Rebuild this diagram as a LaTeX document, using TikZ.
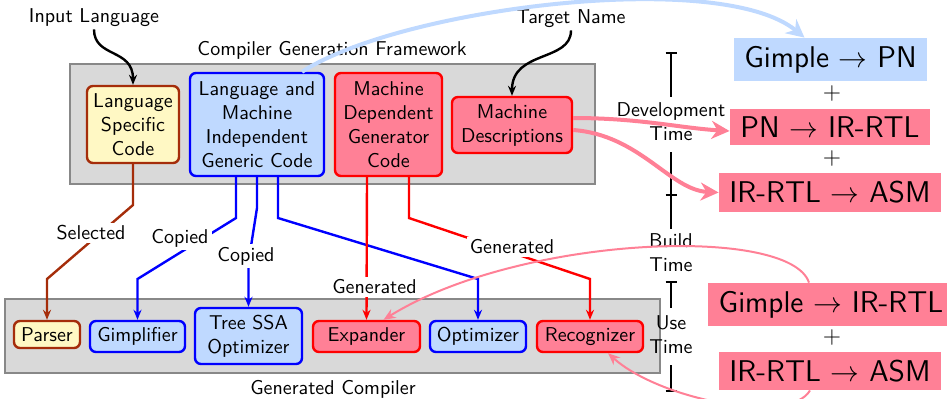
\documentclass[tikz,border=0pt]{standalone}
\usetikzlibrary{arrows.meta,calc}
\definecolor{pinkf}{RGB}{255,128,150}
\definecolor{bluef}{RGB}{191,217,255}
\definecolor{yellf}{RGB}{255,248,196}
\definecolor{brownb}{RGB}{165,45,10}
\definecolor{grayf}{RGB}{217,217,217}
\definecolor{grayb}{RGB}{136,136,136}
\begin{document}
\begin{tikzpicture}[x=0.5pt,y=-0.5pt,font=\sffamily,
  frame/.style={draw=grayb,fill=grayf,line width=1.2pt},
  box/.style={rounded corners=3pt,line width=1.2pt,align=center,inner sep=1pt},
  ybox/.style={box,draw=brownb,fill=yellf},
  bbox/.style={box,draw=blue,fill=bluef},
  rbox/.style={box,draw=red,fill=pinkf},
  big/.style={font=\sffamily\fontsize{15}{18}\selectfont,inner xsep=5.25pt,inner ysep=4pt},
  bigb/.style={big,fill=bluef},
  bigr/.style={big,fill=pinkf},
  plus/.style={font=\sffamily\fontsize{13.2}{15.8}\selectfont},
  lbl/.style={fill=white,inner sep=1.5pt},
  conn/.style={line width=1.2pt,-{Stealth[length=5pt,width=4pt]}},
  tl/.style={line width=0.6pt}
]
\useasboundingbox (0,0) rectangle (947,398);

% frames
\draw[frame] (70,64) rectangle (595,184);
\draw[frame] (5,299) rectangle (660,373);
\node (cgf) at (332,50) {Compiler Generation Framework};
\node (gc) at (333,389) {Generated Compiler};

% framework boxes
\node[ybox,minimum width=46pt,minimum height=38.5pt] (lsc) at (133,124.5) {Language\\Specific\\Code};
\node[bbox,minimum width=67pt,minimum height=51.5pt] (gen) at (257,124.5) {Language and\\Machine\\Independent\\Generic Code};
\node[rbox,minimum width=53.5pt,minimum height=51.5pt] (mdg) at (388.5,124.5) {Machine\\Dependent\\Generator\\Code};
\node[rbox,minimum width=60pt,minimum height=28pt] (md) at (512,125) {Machine\\Descriptions};

% generated compiler boxes
\node[ybox,minimum width=33pt,minimum height=13.5pt] (parser) at (47,334.5) {Parser};
\node[bbox,minimum width=47.5pt,minimum height=15.5pt] (gimpl) at (137.5,336.5) {Gimplifier};
\node[bbox,minimum width=53.5pt,minimum height=28pt] (tree) at (248.5,336) {Tree SSA\\Optimizer};
\node[rbox,minimum width=53.5pt,minimum height=15.5pt] (exp) at (366.5,336.5) {Expander};
\node[bbox,minimum width=48pt,minimum height=15.5pt] (opt) at (478,336.5) {Optimizer};
\node[rbox,minimum width=53pt,minimum height=15.5pt] (rec) at (590,336.5) {Recognizer};

% input labels
\node[inner sep=1pt] (inl) at (94,18) {Input Language};
\node[inner sep=1pt] (tgt) at (571,19) {Target Name};
\draw[line width=1.2pt,-{Stealth[length=5pt,width=4pt]}] (inl.south) .. controls (94,58) and (133,48) .. (lsc.north);
\draw[line width=1.2pt,-{Stealth[length=5pt,width=4pt]}] (tgt.south) .. controls (571,62) and (512,50) .. (md.north);

% connectors
\draw[conn,brownb] (lsc.south) -- (133,205) -- (47,279) -- (parser.north);
\draw[conn,blue] ($(gen.south)+(-21,0)$) -- (236,218) -- (137.5,279) -- (gimpl.north);
\draw[conn,blue] (gen.south) -- (257,208) -- (248.5,262) -- (tree.north);
\draw[conn,blue] ($(gen.south)+(21,0)$) -- (278,218) -- (478,279) -- (opt.north);
\draw[conn,red] ($(mdg.south)+(-21.5,0)$) -- (exp.north);
\draw[conn,red] ($(mdg.south)+(20.5,0)$) -- (409,218) -- (590,279) -- (rec.north);
\node[lbl] (sel) at (91,233) {Selected};
\node[lbl] (cp1) at (180,238) {Copied};
\node[lbl] (cp2) at (246,256) {Copied};
\node[lbl] (gn1) at (374.5,287) {Generated};
\node[lbl] (gn2) at (512,247) {Generated};

% right boxes
\node[bigb] (gp) at (830.5,59.5) {Gimple $\rightarrow$ PN};
\node[plus] (p1) at (832,93) {$+$};
\node[bigr] (pn) at (830,127) {PN $\rightarrow$ IR-RTL};
\node[plus] (p2) at (832,158) {$+$};
\node[bigr] (ia1) at (830,192.5) {IR-RTL $\rightarrow$ ASM};
\node[bigr] (gi) at (831,304.5) {Gimple $\rightarrow$ IR-RTL};
\node[plus] (p3) at (832,337) {$+$};
\node[bigr] (ia2) at (830,371) {IR-RTL $\rightarrow$ ASM};

% timeline
\draw[tl] (665.5,53) -- (676.5,53) (671,53) -- (671,97);
\node[align=center,inner sep=0pt] (dev) at (671,122) {Development\\Time};
\draw[tl] (671,152) -- (671,229) (665.5,195) -- (676.5,195);
\node[align=center,inner sep=0pt] (bld) at (671,253) {Build\\Time};
\draw[tl] (665.5,282) -- (676.5,282) (671,282) -- (671,308);
\node[align=center,inner sep=0pt] (use) at (671,335) {Use\\Time};
\draw[tl] (671,365) -- (671,391) (665.5,391) -- (676.5,391);

% big arrows
\draw[line width=2pt,bluef,-{Stealth[length=9pt,width=9pt]}] ($(gen.north)+(45,0)$) .. controls (400,8) and (720,-32) .. ($(gp.north)+(-26,0)$);
\draw[line width=2pt,pinkf,-{Stealth[length=9pt,width=9pt]}] ($(md.east)+(0,-7)$) .. controls (640,118) and (680,128) .. ($(pn.west)+(0,4)$);
\draw[line width=2pt,pinkf,-{Stealth[length=9pt,width=9pt]}] ($(md.east)+(0,5)$) .. controls (640,135) and (670,190) .. (ia1.west);
\draw[line width=1pt,pinkf,-{Stealth[length=6pt,width=5pt]}] ($(gi.north)+(-22,0)$) .. controls (790,225) and (520,235) .. ($(exp.north)+(17,0)$);
\draw[line width=1pt,pinkf,-{Stealth[length=6pt,width=5pt]}] ($(ia2.south)+(-20,0)$) .. controls (790,425) and (660,400) .. ($(rec.south)+(18,0)$);
\end{tikzpicture}
\end{document}
